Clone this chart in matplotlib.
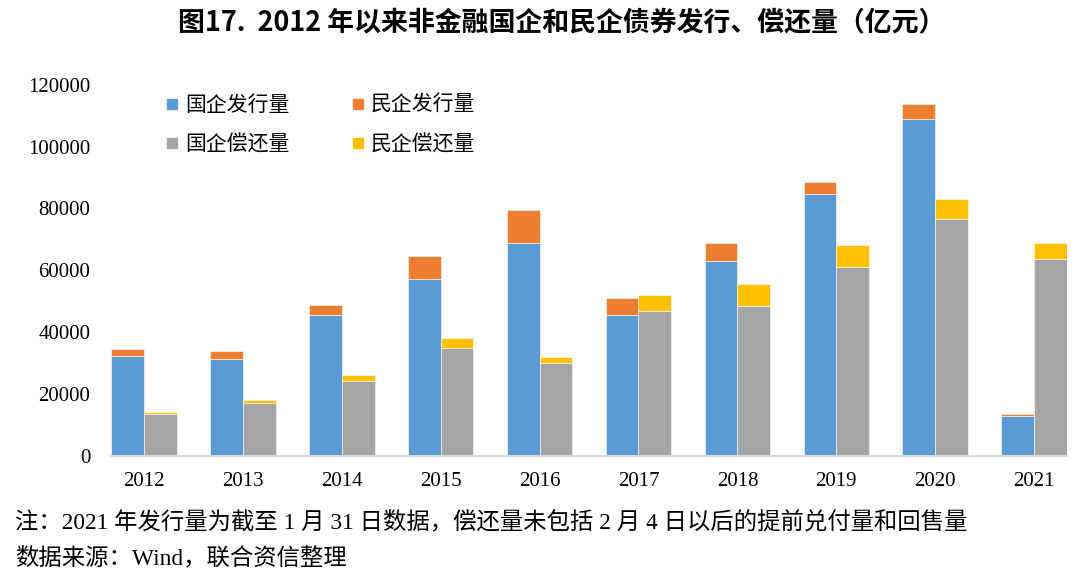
import numpy as np
import matplotlib
matplotlib.use("Agg")
import matplotlib.pyplot as plt
from matplotlib.lines import Line2D

# ---- data (亿元) ----
years = ["2012", "2013", "2014", "2015", "2016", "2017", "2018", "2019", "2020", "2021"]
soe_issue = [32300, 31300, 45500, 57000, 68700, 45400, 63000, 84600, 108800, 12900]
poe_issue = [2300, 2600, 3300, 7600, 10800, 5700, 5700, 3800, 5100, 500]
soe_repay = [13400, 16900, 24200, 34900, 30000, 46900, 48500, 61100, 76500, 63700]
poe_repay = [700, 1100, 1900, 3000, 2000, 5000, 7000, 7000, 6500, 5000]

labels = ["国企发行量", "民企发行量", "国企偿还量", "民企偿还量"]
COLORS = ["#5B9BD5", "#ED7D31", "#A5A5A5", "#FFC000"]

CJK = ["Noto Sans CJK SC", "DejaVu Sans"]
SERIF = ["Liberation Serif", "Noto Sans CJK SC"]

fig = plt.figure(figsize=(10.8, 5.75), dpi=100)
ax = fig.add_axes([0.1028, 0.2078, 0.8852, 0.6449])

x = np.arange(len(years))
w = 0.332
ax.bar(x - w / 2, soe_issue, width=w, color=COLORS[0], edgecolor="white", linewidth=0.4)
ax.bar(x - w / 2, poe_issue, width=w, bottom=soe_issue, color=COLORS[1],
       edgecolor="white", linewidth=0.4)
ax.bar(x + w / 2, soe_repay, width=w, color=COLORS[2], edgecolor="white", linewidth=0.4)
ax.bar(x + w / 2, poe_repay, width=w, bottom=soe_repay, color=COLORS[3],
       edgecolor="white", linewidth=0.4)

ax.set_xlim(-w, len(years) - 1 + w)
ax.set_ylim(0, 120000)
ax.set_yticks(np.arange(0, 120001, 20000))
ax.set_yticklabels([str(v) for v in range(0, 120001, 20000)], family=SERIF, fontsize=15)
ax.set_xticks(x)
ax.set_xticklabels(years, family=SERIF, fontsize=15)
ax.tick_params(axis="y", length=0, pad=15)
ax.tick_params(axis="x", length=0, pad=12)
for s in ["top", "right", "left"]:
    ax.spines[s].set_visible(False)
ax.spines["bottom"].set_color("#D9D9D9")
ax.spines["bottom"].set_linewidth(1.5)

# legend fills column by column, so reorder to get the rows right
order = [0, 2, 1, 3]
handles = [Line2D([], [], marker="s", linestyle="none", markersize=6.5,
                  markerfacecolor=COLORS[i], markeredgecolor=COLORS[i]) for i in order]
fig.legend(handles, [labels[i] for i in order], ncol=2, loc="upper left",
           bbox_to_anchor=(166 / 1080, 1 - 94 / 575),
           bbox_transform=fig.transFigure, frameon=False,
           prop={"family": CJK, "size": 15},
           handlelength=0.6, handletextpad=0.3, columnspacing=3.0,
           labelspacing=0.85, borderpad=0, borderaxespad=0)

fig.text(562 / 1080, 1 - 22 / 575,
         "图17.  2012 年以来非金融国企和民企债券发行、偿还量（亿元）",
         ha="center", va="center", family=CJK, fontsize=19.4, fontweight="bold")

fig.text(15 / 1080, 1 - 522 / 575,
         "注：2021 年发行量为截至 1 月 31 日数据，偿还量未包括 2 月 4 日以后的提前兑付量和回售量",
         ha="left", va="center", family=SERIF, fontsize=16.8)
fig.text(15 / 1080, 1 - 558 / 575, "数据来源：Wind，联合资信整理",
         ha="left", va="center", family=SERIF, fontsize=16.8)

fig.savefig("out.png", dpi=100)
